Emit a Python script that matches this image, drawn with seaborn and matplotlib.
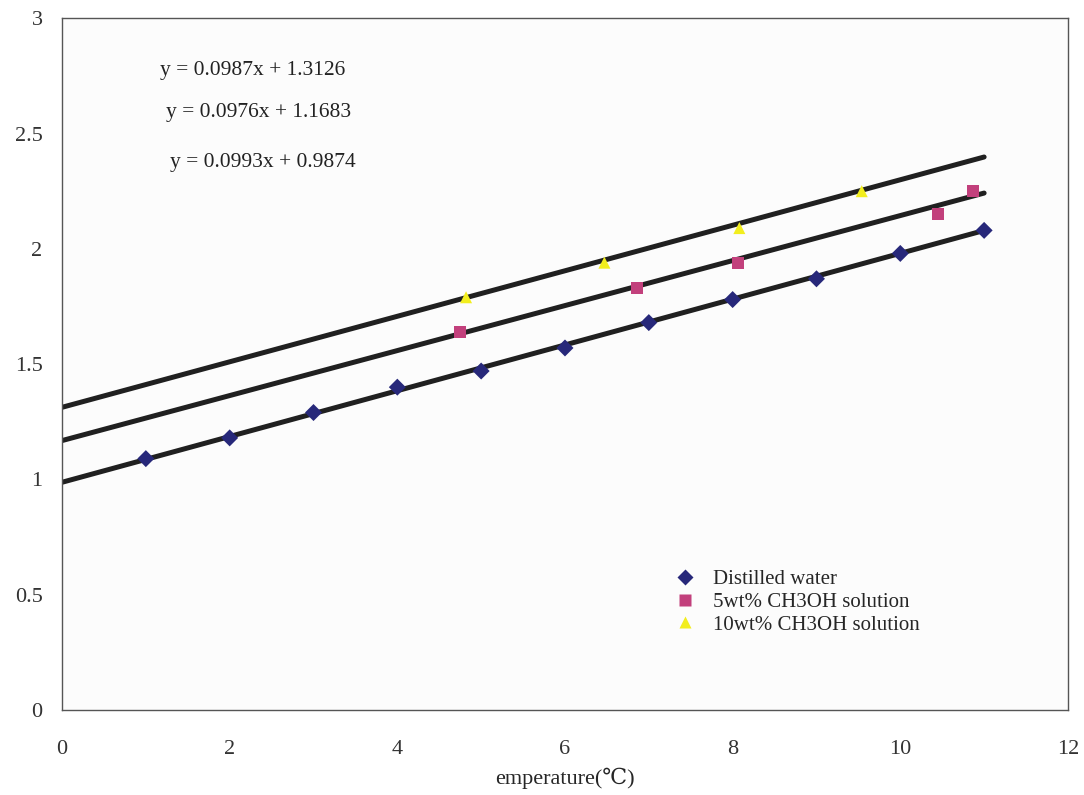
import matplotlib
matplotlib.use("Agg")
import matplotlib.pyplot as plt
import seaborn as sns
import pandas as pd
import numpy as np

# ---- data ----
water_x = [1, 2, 3, 4, 5, 6, 7, 8, 9, 10, 11]
water_y = [1.09, 1.18, 1.29, 1.40, 1.47, 1.57, 1.68, 1.78, 1.87, 1.98, 2.08]
m5_x = [4.75, 6.86, 8.06, 10.45, 10.87]
m5_y = [1.64, 1.83, 1.94, 2.15, 2.25]
m10_x = [4.82, 6.47, 8.08, 9.54]
m10_y = [1.79, 1.94, 2.09, 2.25]
series_names = ["Distilled water", "5wt% CH3OH solution", "10wt% CH3OH solution"]
# printed trend-line equations (slope, intercept), top to bottom
eq_slopes = [0.0987, 0.0976, 0.0993]
eq_intercepts = [1.3126, 1.1683, 0.9874]
eq_labels = ["y = 0.0987x + 1.3126", "y = 0.0976x + 1.1683", "y = 0.0993x + 0.9874"]
trend_x_range = [0, 11]
x_ticks = [0, 2, 4, 6, 8, 10, 12]
y_ticks = [0, 0.5, 1, 1.5, 2, 2.5, 3]
y_tick_labels = ["0", "0.5", "1", "1.5", "2", "2.5", "3"]
x_label = "emperature(\u2103)"

sns.set_style("white")
plt.rcParams["font.family"] = ["Liberation Serif", "DejaVu Serif", "DejaVu Sans"]

fig = plt.figure(figsize=(10.84, 7.95), dpi=100)
ax = fig.add_axes([0.0572, 0.107, 0.928, 0.870])
ax.set_facecolor("#fcfcfc")

# trend lines
for s, b in zip(eq_slopes, eq_intercepts):
    tx = np.array(trend_x_range, dtype=float)
    df_line = pd.DataFrame({"x": tx, "y": s * tx + b})
    sns.lineplot(data=df_line, x="x", y="y", ax=ax, color="#202020", lw=3.6,
                 legend=False, zorder=2)

df = pd.concat([
    pd.DataFrame({"x": water_x, "y": water_y, "s": series_names[0]}),
    pd.DataFrame({"x": m5_x, "y": m5_y, "s": series_names[1]}),
    pd.DataFrame({"x": m10_x, "y": m10_y, "s": series_names[2]}),
])
palette = {series_names[0]: "#27287a", series_names[1]: "#c2407c", series_names[2]: "#f2ee1e"}
markers = {series_names[0]: "D", series_names[1]: "s", series_names[2]: "^"}
sns.scatterplot(data=df, x="x", y="y", hue="s", style="s", palette=palette,
                markers=markers, s=75, edgecolor="none", ax=ax, zorder=3)

ax.set_xlim(0, 12)
ax.set_ylim(0, 3)
ax.set_xticks(x_ticks)
ax.set_yticks(y_ticks)
ax.set_yticklabels(y_tick_labels)
ax.tick_params(axis="both", direction="in", length=5, width=0.8, labelsize=16,
               colors="#333333")
ax.tick_params(axis="x", pad=22)
ax.tick_params(axis="y", pad=14)
ax.set_xlabel(x_label, fontsize=16, labelpad=6)
ax.set_ylabel("")
for sp in ax.spines.values():
    sp.set_visible(True)
    sp.set_color("#555555")
    sp.set_linewidth(1.0)

eq_pos = [(1.17, 2.775), (1.24, 2.59), (1.29, 2.375)]
for (px, py), t in zip(eq_pos, eq_labels):
    ax.text(px, py, t, fontsize=15.5, va="center", ha="left", color="#222222")

leg = ax.legend(loc="upper left", bbox_to_anchor=(0.597, 0.218), frameon=False,
                fontsize=15, handletextpad=0.7, labelspacing=0.15, borderpad=0,
                handlelength=1.2, markerscale=1.0)
for h in leg.legend_handles:
    h.set_markersize(8)

fig.savefig("out.png", dpi=100, facecolor="white")
